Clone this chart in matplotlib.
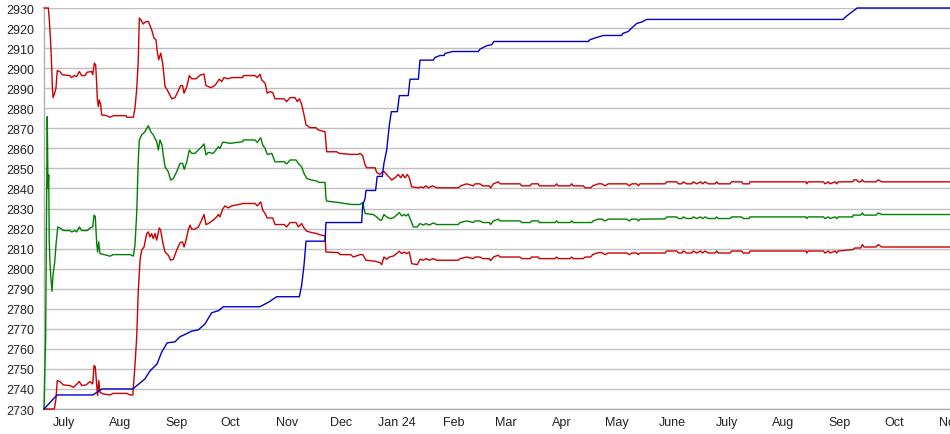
import matplotlib
matplotlib.use("Agg")
import matplotlib.pyplot as plt
import numpy as np

# days counted from 2023-06-20
start = np.datetime64("2023-06-20")

blue_days = [0, 7.2, 27, 32, 49, 55.7, 58.5, 62.4, 65, 68, 72.3, 75, 81.5, 85.2, 88.9, 92.5, 96.2, 99,
             119.2, 124.7, 128.4, 140.9, 142.2, 143.5, 144.6, 155.1, 155.6, 175.3, 175.9, 177.2, 177.7,
             183, 183.9, 186.7, 187.6, 189.1, 190.6, 191.7, 195, 196.1, 201, 202, 206.6, 207.5, 214.8,
             215.8, 218.5, 220.8, 221.3, 225.5, 239.7, 240.6, 242.4, 244.3, 247.1, 248.3, 300.4, 301.3,
             305, 308.7, 318.8, 319.4, 322.5, 324.3, 327.1, 329.9, 332.6, 441.1, 442, 444.8, 448.8, 500]
blue_vals = [2730, 2737, 2737, 2740, 2740, 2745, 2749, 2752.5, 2758.5, 2763, 2763.5, 2766, 2768.8, 2769.5,
             2772.5, 2778, 2779, 2781, 2781, 2783.7, 2786, 2786, 2791.7, 2801.7, 2813.7, 2813.7, 2823,
             2823, 2831.7, 2835, 2839, 2839, 2846, 2846, 2852.5, 2859, 2871.7, 2878.3, 2878.3, 2886.3,
             2886.3, 2894.5, 2894.5, 2904, 2904, 2905.3, 2906.3, 2906.3, 2907.3, 2908.3, 2908.3, 2909.5,
             2910.3, 2911.2, 2911.7, 2913.3, 2913.3, 2914.2, 2915.3, 2916.3, 2916.3, 2917.3, 2918.3, 2920,
             2922.3, 2923, 2924.3, 2924.3, 2925.3, 2927.3, 2930, 2930]

green_days = [0, 0.9, 1.5, 1.8, 2.2, 2.6, 2.9, 3.3, 3.7, 4.4, 5.1, 5.9, 6.6, 7.6, 8.8, 10.7, 14.3, 15.3,
              17.1, 18, 19.5, 20.8, 23.9, 25.4, 26.9, 27.6, 28.3, 29.1, 29.6, 30.2, 30.9, 34.6, 36.4,
              38.2, 47.5, 49.3, 50.2, 51.2, 52, 52.6, 53.9, 55.7, 56.7, 57.6, 58.9, 60.3, 62.2, 63.1, 64,
              65.1, 65.8, 66.8, 68.6, 69.9, 71.4, 73.2, 75.1, 76.5, 77.4, 78.8, 80.2, 81.5, 83.3, 85.2,
              87, 88.3, 89.4, 90.7, 93.4, 94.9, 96.2, 97.1, 98.6, 99.9, 102.6, 109.7, 110, 116.4, 117.7,
              119.6, 120.7, 122, 123.2, 125.7, 127.5, 132.5, 133.9, 135.8, 139.1, 140.3, 142.2, 143.5,
              145, 147.7, 150.5, 151.9, 155.1, 155.6, 156, 162.4, 169.8, 174.4, 175.9, 177.2, 181.7,
              183.6, 185.4, 186.4, 187.6, 189.1, 190.9, 192.8, 194.6, 196.1, 197.4, 198.7, 199.8, 201,
              202, 203.8, 206, 207.5, 209.3, 210.8, 212.6, 214.8, 216.7, 228.6, 229.6, 233.3, 236.9,
              237.9, 240.6, 242.1, 245.7, 246.5, 248, 250.7, 251.7, 262.7, 263.6, 268.2, 269.1, 272.8,
              273.3, 282, 282.9, 283.8, 290.3, 291.2, 292.1, 302.3, 303.1, 305.9, 307.8, 309.6, 311.4,
              321.6, 323, 324.4, 327.1, 328, 328.9, 342.7, 343.7, 349.2, 350.1, 352, 352.8, 354.7, 357.4,
              358.3, 360.2, 362.4, 363.5, 364.8, 366.6, 370.3, 371.2, 372.1, 378.6, 379.5, 385, 385.9,
              389.2, 389.6, 420.5, 420.9, 421.8, 430.1, 431, 432.9, 433.8, 436.6, 437.5, 438.3, 446.3,
              446.6, 450.7, 451.6, 452.5, 459.2, 460.4, 462.3, 500]
green_vals = [2730, 2765.8, 2838, 2875.8, 2840, 2846.7, 2813.3, 2803, 2796.7, 2788.7, 2798, 2803, 2811.7,
              2820.8, 2820.3, 2819, 2819, 2818.3, 2819, 2818.3, 2820.8, 2819, 2819, 2820.3, 2820.8,
              2826.7, 2826, 2812.5, 2808.3, 2813.3, 2807.5, 2806.7, 2806.2, 2807, 2807, 2806.3, 2811.7,
              2828.3, 2853.3, 2864.2, 2866.7, 2868.3, 2870, 2871.3, 2868.3, 2866.7, 2863.3, 2859.2,
              2864.2, 2861.7, 2856.7, 2850.8, 2848.3, 2844.2, 2845, 2848.3, 2852.5, 2852.5, 2849.5,
              2853.3, 2859.2, 2857.5, 2857.5, 2859.2, 2860.8, 2862.2, 2856.7, 2858, 2857.5, 2859.2,
              2860.8, 2860, 2863, 2863, 2862.5, 2863.3, 2864.2, 2864.2, 2863, 2865.3, 2861.7, 2860,
              2857, 2857.5, 2853.3, 2853.3, 2852.2, 2854.2, 2854.2, 2852.5, 2850.8, 2847.5, 2845,
              2844.2, 2843.7, 2843, 2843, 2835, 2833.7, 2833, 2832, 2832, 2833, 2827.5, 2827, 2825.8,
              2824.2, 2824.2, 2827, 2825.8, 2825, 2825.3, 2826.7, 2828, 2826.3, 2827, 2826.3, 2827.2,
              2825, 2820.8, 2820.8, 2822.5, 2821.7, 2822.5, 2821.7, 2822.8, 2822, 2822, 2823, 2823.8,
              2823, 2823.8, 2823.8, 2823, 2823, 2822, 2823.8, 2824.7, 2823.8, 2823.8, 2823, 2823,
              2823.8, 2823.8, 2823, 2823, 2823.8, 2823, 2823, 2823.8, 2823, 2823, 2823.8, 2824.7,
              2824.7, 2823.8, 2824.7, 2824.7, 2823.8, 2824.7, 2824.7, 2823.8, 2824.7, 2824.8, 2825.8,
              2825.8, 2825, 2825, 2825.8, 2825, 2825, 2825.8, 2825, 2825.8, 2825, 2825.8, 2825, 2825,
              2825.8, 2825, 2825, 2825.8, 2825.8, 2825, 2825, 2825.8, 2825.8, 2825, 2825.8, 2825.8,
              2825, 2825.8, 2825, 2825.8, 2825, 2825.8, 2825.8, 2826.7, 2826.7, 2827.8, 2826.7,
              2826.7, 2827.8, 2827, 2827]

upper_days = [0, 2.4, 2.9, 3.7, 4.2, 4.6, 5, 5.7, 6.6, 7.3, 8.8, 10.1, 14.3, 15.3, 16.6, 18, 19.5, 20.8,
              22.6, 23.9, 26.3, 26.9, 27.8, 28.5, 29.1, 29.4, 30, 30.5, 31.3, 31.8, 34.6, 36.4, 38.2,
              45.3, 45.6, 49.3, 50.2, 51.2, 52, 52.6, 53.4, 54.8, 55.7, 57.6, 59.4, 60.7, 61.8, 62.5,
              63.3, 64.4, 65.5, 66.8, 68, 70.5, 72.3, 74.1, 75.4, 76.5, 77.3, 78.8, 80.2, 81.5, 83.9,
              85.2, 86.5, 88.3, 89.4, 90.7, 92, 93.4, 94.9, 96.7, 98.1, 99.3, 101.7, 103.6, 109.7, 110,
              116.4, 117.7, 119.2, 120.1, 122, 123.2, 124.7, 126.2, 127.5, 132.5, 133.9, 135.8, 138.5,
              139.8, 140.9, 142.2, 143.5, 144.6, 146.8, 150.1, 151.4, 153.3, 155.1, 156, 161.5, 163,
              169.3, 173.5, 174.4, 175.9, 177.2, 178.1, 182.7, 183.6, 185.4, 187.3, 189.1, 191.9, 193.7,
              195.5, 196.9, 198, 199.2, 200.5, 201.6, 202.9, 206.6, 207.9, 209.3, 210.8, 212.1, 214.5,
              216.7, 228.6, 230, 233.3, 236.9, 237.9, 240.6, 242.1, 245.7, 246.5, 248, 250.7, 251.7,
              262.7, 263.6, 268.2, 269.1, 272.8, 273.3, 282, 282.9, 283.8, 290.3, 291.2, 292.1, 297.6,
              298.6, 301.7, 302.8, 305.9, 307.8, 309.6, 311.4, 321.6, 323, 324.4, 327.1, 328, 328.9,
              342.7, 343.7, 349.2, 350.1, 352, 352.8, 354.7, 357.4, 358.3, 360.2, 362.4, 363.5, 364.8,
              366.6, 370.3, 371.2, 372.1, 378.6, 379.5, 385, 385.9, 389.2, 389.6, 420.5, 420.9, 421.8,
              430.1, 431, 432.9, 433.8, 436.6, 437.5, 438.3, 446.3, 447, 448.5, 449.4, 450.7, 451.6,
              452.5, 459.2, 460.4, 462.3, 500]
upper_vals = [2930, 2930, 2924.2, 2912.5, 2901.7, 2890.8, 2885.3, 2887, 2890, 2898.7, 2898.3, 2896.7,
              2896.3, 2895.3, 2896.3, 2895.8, 2898.3, 2896.3, 2896.3, 2898, 2898.3, 2896.7, 2902.5,
              2901.7, 2891.7, 2885, 2880.8, 2884.2, 2881.7, 2876.7, 2876.3, 2875.5, 2876.3, 2876.3,
              2875.5, 2875.5, 2880, 2890, 2903.3, 2925, 2924.2, 2922, 2923, 2923.3, 2919.2, 2915,
              2914.2, 2908.3, 2904.2, 2907.5, 2902.5, 2890.8, 2889.2, 2884.7, 2885.3, 2888.7, 2891.3,
              2891.3, 2887.5, 2890.8, 2896.3, 2894.7, 2894.7, 2895.8, 2896.7, 2897, 2891.3, 2890.8,
              2890.3, 2890.8, 2892, 2894.5, 2893.3, 2895.3, 2894.7, 2895.3, 2895.3, 2896.3, 2896.3,
              2895.3, 2897, 2894.2, 2892.5, 2887.5, 2888.3, 2887.8, 2884.7, 2884.7, 2883.3, 2885.3,
              2885.3, 2883.3, 2884.7, 2882, 2876.7, 2871.7, 2870.3, 2870.3, 2869.2, 2868.7, 2868.3,
              2858.3, 2858.3, 2857.5, 2857, 2857, 2857.5, 2856.3, 2851.7, 2850.3, 2850.3, 2848, 2847,
              2848.7, 2847, 2844.2, 2845.3, 2847, 2845.3, 2847, 2845.3, 2847, 2845.3, 2840.8, 2840.3,
              2840.8, 2840.3, 2841.3, 2840.3, 2841.3, 2840.3, 2840.3, 2841.3, 2842.3, 2841.3, 2842.3,
              2842.3, 2841.3, 2841.3, 2840.3, 2842.3, 2843.3, 2842.3, 2842.3, 2841.3, 2841.3, 2842.3,
              2842.3, 2841.3, 2841.3, 2842.3, 2841.3, 2841.3, 2842.3, 2841.3, 2841.3, 2840.3, 2840.3,
              2841.3, 2842.3, 2842.3, 2841.3, 2842.3, 2842.3, 2841.3, 2842.3, 2842.3, 2841.3, 2842.3,
              2842.3, 2843.3, 2843.3, 2842.3, 2842.3, 2843.3, 2842.3, 2842.3, 2843.3, 2842.3, 2843.3,
              2842.3, 2843.3, 2842.3, 2842.3, 2843.3, 2842.3, 2842.3, 2843.3, 2843.3, 2842.3, 2842.3,
              2843.3, 2843.3, 2842.3, 2843.3, 2843.3, 2842.3, 2843.3, 2842.3, 2843.3, 2842.3, 2843.3,
              2843.3, 2844.3, 2844.3, 2843.3, 2843.3, 2844.3, 2843.3, 2843.3, 2844.3, 2843.3, 2843.3]

lower_days = [0, 5.7, 6.6, 7.3, 8.8, 10.7, 14.3, 16.2, 17.7, 19.5, 20.8, 23.2, 25.4, 26.9, 27.6, 28.3,
              29.1, 29.6, 30.2, 30.9, 32.7, 36.4, 38.2, 45.6, 47.5, 49, 50.2, 51.2, 52, 53, 53.9, 55.2,
              56.7, 57.6, 58.5, 59.4, 60.3, 61.3, 62.2, 63.6, 64.4, 65.5, 66.8, 68.6, 69.9, 71.4, 73.2,
              75.1, 76.5, 77.3, 78.4, 79.6, 80.6, 81.5, 83.3, 85.2, 87, 88.3, 89.4, 90.7, 93.4, 95.3,
              96.2, 97.1, 98.6, 99.9, 101.7, 103.6, 110, 116.4, 117.7, 119.6, 120.7, 122, 123.2, 126.2,
              127.5, 132.5, 133.9, 135.8, 139.1, 140.3, 142.2, 143.5, 145, 147.7, 150.5, 151.9, 155.1,
              155.6, 162.4, 163.4, 169.3, 170.7, 174.4, 175.9, 177.7, 182.7, 185.4, 186.4, 187.6, 189.1,
              190.6, 192.8, 194.6, 196.1, 197.4, 198.7, 200.2, 201.6, 202.9, 206, 207.5, 209.3, 210.8,
              212.6, 214.8, 216.7, 228.6, 229.6, 233.3, 236.9, 237.9, 240.6, 242.1, 245.7, 246.5, 248,
              250.7, 251.7, 262.7, 263.6, 268.2, 269.1, 272.8, 273.3, 282, 282.9, 283.8, 290.3, 291.2,
              292.1, 297.6, 298.6, 301.7, 302.8, 305.9, 307.8, 309.6, 311.4, 321.6, 323, 324.4, 327.1,
              328, 328.9, 342.7, 343.7, 349.2, 350.1, 352, 352.8, 354.7, 357.4, 358.3, 360.2, 362.4,
              363.5, 364.8, 366.6, 370.3, 371.2, 372.1, 378.6, 379.5, 385, 385.9, 389.2, 389.6, 420.5,
              420.9, 421.8, 430.1, 431, 432.9, 433.8, 436.6, 437.5, 438.3, 446.3, 447.6, 450.7, 451.6,
              452.5, 459.2, 460.4, 462.3, 500]
lower_vals = [2730, 2730, 2735, 2744.2, 2743.7, 2742, 2741.7, 2740.8, 2742, 2743.7, 2741.7, 2742, 2743.7,
              2742.5, 2751.7, 2751, 2741.7, 2736.7, 2744.2, 2738.3, 2737.5, 2737, 2737.8, 2737.8, 2737,
              2737, 2751.7, 2766.7, 2788.3, 2804.2, 2809.2, 2810.8, 2817.5, 2818.3, 2815.8, 2817.5,
              2815, 2817.5, 2814.2, 2820.3, 2819.2, 2813.3, 2808.3, 2806.7, 2804.2, 2804.7, 2809.2,
              2813, 2813.3, 2810.8, 2814.2, 2819.2, 2821.7, 2819.7, 2819.7, 2820.8, 2824.2, 2827, 2822,
              2822.5, 2824.2, 2825.8, 2827, 2825.8, 2829.7, 2831.3, 2830.3, 2831.3, 2832.5, 2832.5,
              2831.3, 2833.3, 2829.2, 2827.5, 2825.3, 2825.3, 2822, 2822, 2820.8, 2823, 2823, 2820.8,
              2822.5, 2820.3, 2818.7, 2818, 2817.5, 2817, 2816.3, 2808.3, 2808, 2807, 2807, 2805.8,
              2807, 2807, 2804.2, 2803.7, 2803, 2802, 2805.8, 2804.7, 2805.8, 2806.3, 2807.5, 2808.7,
              2807.5, 2808.3, 2807.5, 2808.3, 2802.5, 2802, 2804.7, 2804.2, 2805, 2804.2, 2805, 2804.2,
              2804.2, 2805, 2805.8, 2805, 2805.8, 2805.8, 2805, 2805, 2804, 2805.8, 2806.7, 2805.8,
              2805.8, 2805, 2805, 2805.8, 2805.8, 2805, 2805, 2805.8, 2805, 2805, 2805.8, 2805, 2805,
              2805.8, 2805.8, 2807, 2808, 2808, 2807, 2807.8, 2807.8, 2807, 2807.8, 2807.8, 2807,
              2807.8, 2807.8, 2808.8, 2808.8, 2807.8, 2807.8, 2808.8, 2807.8, 2807.8, 2808.8, 2807.8,
              2808.8, 2807.8, 2808.8, 2807.8, 2807.8, 2808.8, 2807.8, 2807.8, 2808.8, 2808.8, 2807.8,
              2807.8, 2808.8, 2808.8, 2807.8, 2808.8, 2808.8, 2807.8, 2808.8, 2807.8, 2808.8, 2807.8,
              2808.8, 2809.5, 2810.3, 2810.3, 2812, 2810.8, 2810.8, 2812, 2810.8, 2810.8]

month_labels = ["July", "Aug", "Sep", "Oct", "Nov", "Dec", "Jan 24", "Feb", "Mar", "Apr", "May",
                "June", "July", "Aug", "Sep", "Oct", "Nov"]

plt.rcParams['font.family'] = ['Liberation Sans', 'DejaVu Sans']

fig = plt.figure(figsize=(9.5, 4.35), dpi=100)
ax = fig.add_axes([44 / 950, 25 / 435, 906 / 950, 401 / 435])

lw = 1.0
ax.plot(upper_days, upper_vals, color='#cc0000', linewidth=lw, clip_on=False, zorder=3)
ax.plot(lower_days, lower_vals, color='#cc0000', linewidth=lw, clip_on=False, zorder=3)
ax.plot(green_days, green_vals, color='#008000', linewidth=lw, clip_on=False, zorder=3)
ax.plot(blue_days, blue_vals, color='#0000cc', linewidth=lw, clip_on=False, zorder=4)

ax.set_xlim(0, 500)
ax.set_ylim(2730, 2930)
ax.set_yticks(np.arange(2730, 2931, 10))
ax.grid(axis='y', color='#c0c0c0', linewidth=1.0)
ax.set_axisbelow(True)

month_starts = np.arange('2023-07', '2024-12', dtype='datetime64[M]').astype('datetime64[D]')
tick_days = (month_starts - start).astype(int)
ax.set_xticks(tick_days)
ax.set_xticklabels(month_labels)

ax.tick_params(axis='both', length=0, labelsize=9, colors='#222222')
ax.tick_params(axis='y', pad=7)
ax.tick_params(axis='x', pad=5)

for side in ['top', 'right']:
    ax.spines[side].set_visible(False)
for side in ['left', 'bottom']:
    ax.spines[side].set_color('#b0b0b0')
    ax.spines[side].set_linewidth(1.0)

fig.savefig('out.png', dpi=100)
